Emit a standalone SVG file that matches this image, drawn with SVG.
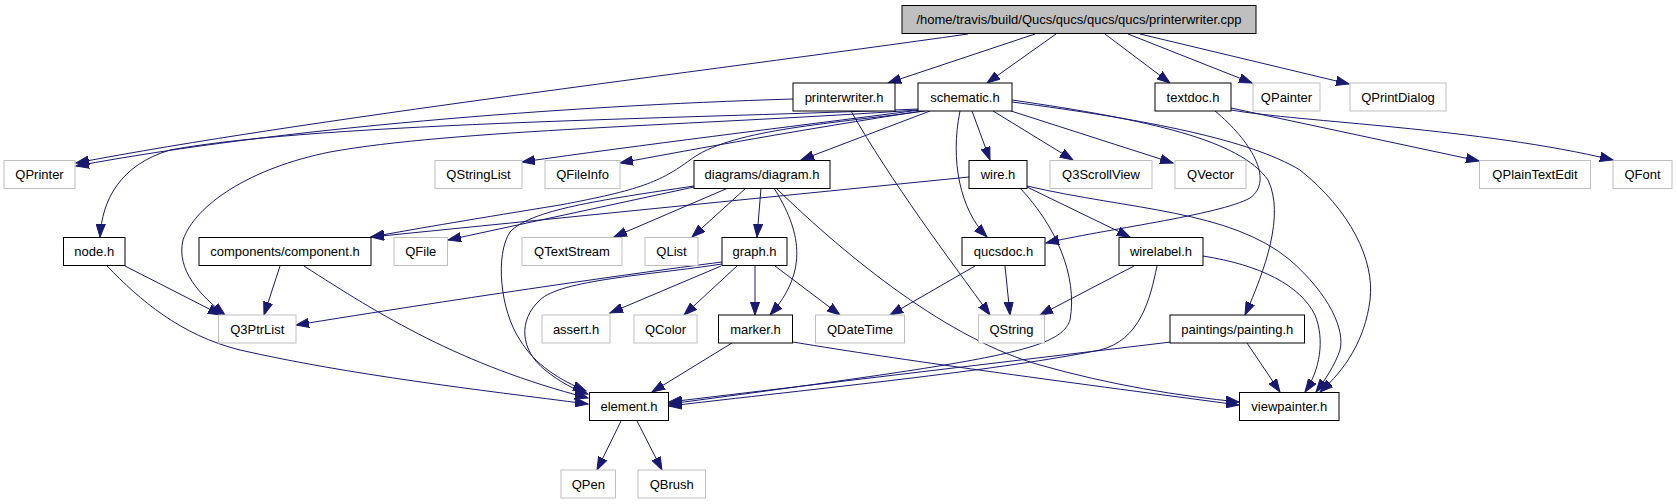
<svg xmlns="http://www.w3.org/2000/svg" width="1677" height="504" viewBox="0 0 1677 504">
<style>
.n rect{fill:#fff;stroke:#000;stroke-width:1}
.g rect{fill:#fff;stroke:#bfbfbf;stroke-width:1}
.r rect{fill:#bfbfbf;stroke:#000;stroke-width:1}
text{font-family:"Liberation Sans",Arial,sans-serif;font-size:13px;fill:#000;text-anchor:middle}
#edges path{fill:none;stroke:#191970;stroke-width:1;marker-end:url(#ah)}
</style>
<defs>
<marker id="ah" markerUnits="userSpaceOnUse" markerWidth="14" markerHeight="10" refX="13" refY="5" orient="auto" viewBox="0 0 14 10">
<path d="M0,0.4 L13,5 L0,9.6 z" fill="#191970" stroke="#191970" stroke-width="1"/>
</marker>
</defs>
<rect width="1677" height="504" fill="#fff"/>
<g id="edges">
<path d="M968,34 C700,72 300,120 76,163"/>
<path d="M1035,34 L888,83"/>
<path d="M1056,34 L987,83"/>
<path d="M1105,34 L1170,83"/>
<path d="M1128,34 L1252,83"/>
<path d="M1140,34 L1349,84"/>
<path d="M793,99 C560,106 280,128 76,166"/>
<path d="M851,111 C890,180 950,260 990,315"/>
<path d="M918,109 C720,118 320,122 170,150 C120,165 102,200 100,237"/>
<path d="M918,110 C700,125 450,130 330,152 C250,168 195,205 183,240 C176,270 200,295 225,315"/>
<path d="M920,110 C780,128 640,145 522,162"/>
<path d="M922,111 C800,130 700,148 620,163"/>
<path d="M925,111 C820,125 730,130 690,160 C660,182 640,190 560,205 C480,218 420,228 371,237"/>
<path d="M930,111 L801,160"/>
<path d="M960,111 C950,160 960,210 987,237"/>
<path d="M972,111 L990,160"/>
<path d="M993,111 L1073,160"/>
<path d="M1011,111 L1173,163"/>
<path d="M1012,100 C1150,120 1240,140 1268,180 C1285,215 1265,270 1245,315"/>
<path d="M1012,102 C1150,120 1250,140 1300,170 C1350,210 1375,260 1370,300 C1365,340 1345,370 1320,392"/>
<path d="M1215,111 C1250,140 1275,180 1250,198 C1220,215 1100,230 1046,243"/>
<path d="M1231,108 L1479,161"/>
<path d="M1231,110 C1300,122 1480,128 1613,160"/>
<path d="M694,187 L448,240"/>
<path d="M728,188 L614,237"/>
<path d="M746,188 L692,237"/>
<path d="M761,188 L757,237"/>
<path d="M774,188 C800,230 810,270 770,315"/>
<path d="M776,188 C850,260 950,340 1040,365 C1110,385 1180,396 1239,402"/>
<path d="M694,186 C600,200 530,210 510,232 C495,255 500,310 520,340 C535,365 560,380 586,391"/>
<path d="M969,177 L371,237"/>
<path d="M1027,187 L1130,237"/>
<path d="M1020,188 C1055,225 1078,275 1070,320 C1060,350 1000,360 669,404"/>
<path d="M1027,186 C1130,210 1230,210 1290,260 C1330,295 1345,330 1340,350 C1335,365 1325,380 1316,392"/>
<path d="M1134,266 L1040,315"/>
<path d="M1157,266 C1150,300 1140,340 1100,350 C1000,370 850,385 669,406"/>
<path d="M1203,256 C1260,265 1300,285 1315,315 C1325,340 1320,370 1305,392"/>
<path d="M975,266 L890,315"/>
<path d="M1005,266 L1010,315"/>
<path d="M722,262 C620,275 450,300 296,325"/>
<path d="M722,264 C650,275 560,280 540,300 C518,320 520,350 545,370 C560,382 575,390 588,394"/>
<path d="M721,266 L610,313"/>
<path d="M737,266 L684,315"/>
<path d="M755,266 L755,315"/>
<path d="M775,266 L840,315"/>
<path d="M732,343 L652,392"/>
<path d="M793,342 C900,360 1050,380 1239,405"/>
<path d="M1171,342 L669,402"/>
<path d="M1247,343 L1280,392"/>
<path d="M125,266 L221,315"/>
<path d="M107,266 C140,300 180,335 240,350 C350,375 480,390 588,404"/>
<path d="M280,266 L264,315"/>
<path d="M304,266 C380,315 460,365 588,398"/>
<path d="M621,421 L597,470"/>
<path d="M637,421 L662,470"/>
</g>
<g id="root" class="r"><rect x="902" y="5.5" width="354" height="28"/><text x="1079" y="24">/home/travis/build/Qucs/qucs/qucs/qucs/printerwriter.cpp</text></g>
<g id="printerwriter_h" class="n"><rect x="793" y="83" width="102" height="28"/><text x="844" y="101.5">printerwriter.h</text></g>
<g id="schematic_h" class="n"><rect x="918" y="83" width="94" height="28"/><text x="965" y="101.5">schematic.h</text></g>
<g id="textdoc_h" class="n"><rect x="1155" y="83" width="76" height="28"/><text x="1193" y="101.5">textdoc.h</text></g>
<g id="QPainter" class="g"><rect x="1253" y="83" width="67" height="28"/><text x="1286.5" y="101.5">QPainter</text></g>
<g id="QPrintDialog" class="g"><rect x="1350" y="83" width="96" height="28"/><text x="1398" y="101.5">QPrintDialog</text></g>
<g id="QPrinter" class="g"><rect x="4" y="160.5" width="71" height="28"/><text x="39.5" y="179">QPrinter</text></g>
<g id="QStringList" class="g"><rect x="435" y="160.5" width="87" height="28"/><text x="478.5" y="179">QStringList</text></g>
<g id="QFileInfo" class="g"><rect x="545" y="160.5" width="75" height="28"/><text x="582.5" y="179">QFileInfo</text></g>
<g id="diagram_h" class="n"><rect x="694" y="160.5" width="136" height="28"/><text x="762" y="179">diagrams/diagram.h</text></g>
<g id="wire_h" class="n"><rect x="969" y="160.5" width="58" height="28"/><text x="998" y="179">wire.h</text></g>
<g id="Q3ScrollView" class="g"><rect x="1050" y="160.5" width="102" height="28"/><text x="1101" y="179">Q3ScrollView</text></g>
<g id="QVector" class="g"><rect x="1175" y="160.5" width="71" height="28"/><text x="1210.5" y="179">QVector</text></g>
<g id="QPlainTextEdit" class="g"><rect x="1479.5" y="160.5" width="111" height="28"/><text x="1535" y="179">QPlainTextEdit</text></g>
<g id="QFont" class="g"><rect x="1613" y="160.5" width="59" height="28"/><text x="1642.5" y="179">QFont</text></g>
<g id="node_h" class="n"><rect x="63.5" y="237.5" width="61.5" height="28"/><text x="94.25" y="256">node.h</text></g>
<g id="component_h" class="n"><rect x="199" y="237.5" width="172" height="28"/><text x="285" y="256">components/component.h</text></g>
<g id="QFile" class="g"><rect x="394" y="237.5" width="53.5" height="28"/><text x="420.75" y="256">QFile</text></g>
<g id="QTextStream" class="g"><rect x="522" y="237.5" width="100" height="28"/><text x="572" y="256">QTextStream</text></g>
<g id="QList" class="g"><rect x="645" y="237.5" width="53" height="28"/><text x="671.5" y="256">QList</text></g>
<g id="graph_h" class="n"><rect x="722" y="237.5" width="65" height="28"/><text x="754.5" y="256">graph.h</text></g>
<g id="qucsdoc_h" class="n"><rect x="962" y="237.5" width="83" height="28"/><text x="1003.5" y="256">qucsdoc.h</text></g>
<g id="wirelabel_h" class="n"><rect x="1119" y="237.5" width="84" height="28"/><text x="1161" y="256">wirelabel.h</text></g>
<g id="Q3PtrList" class="g"><rect x="218.5" y="315" width="77.5" height="28"/><text x="257.25" y="333.5">Q3PtrList</text></g>
<g id="assert_h" class="g"><rect x="542" y="315" width="68" height="28"/><text x="576" y="333.5">assert.h</text></g>
<g id="QColor" class="g"><rect x="634" y="315" width="63" height="28"/><text x="665.5" y="333.5">QColor</text></g>
<g id="marker_h" class="n"><rect x="718.5" y="315" width="74" height="28"/><text x="755.5" y="333.5">marker.h</text></g>
<g id="QDateTime" class="g"><rect x="815.5" y="315" width="89" height="28"/><text x="860" y="333.5">QDateTime</text></g>
<g id="QString" class="g"><rect x="978.5" y="315" width="66" height="28"/><text x="1011.5" y="333.5">QString</text></g>
<g id="painting_h" class="n"><rect x="1170" y="315" width="134.5" height="28"/><text x="1237.25" y="333.5">paintings/painting.h</text></g>
<g id="element_h" class="n"><rect x="589.5" y="392.5" width="79" height="28"/><text x="629" y="411">element.h</text></g>
<g id="viewpainter_h" class="n"><rect x="1239.5" y="392.5" width="99.5" height="28"/><text x="1289.25" y="411">viewpainter.h</text></g>
<g id="QPen" class="g"><rect x="561" y="470" width="54.5" height="28"/><text x="588.25" y="488.5">QPen</text></g>
<g id="QBrush" class="g"><rect x="638" y="470" width="67.5" height="28"/><text x="671.75" y="488.5">QBrush</text></g>
</svg>
